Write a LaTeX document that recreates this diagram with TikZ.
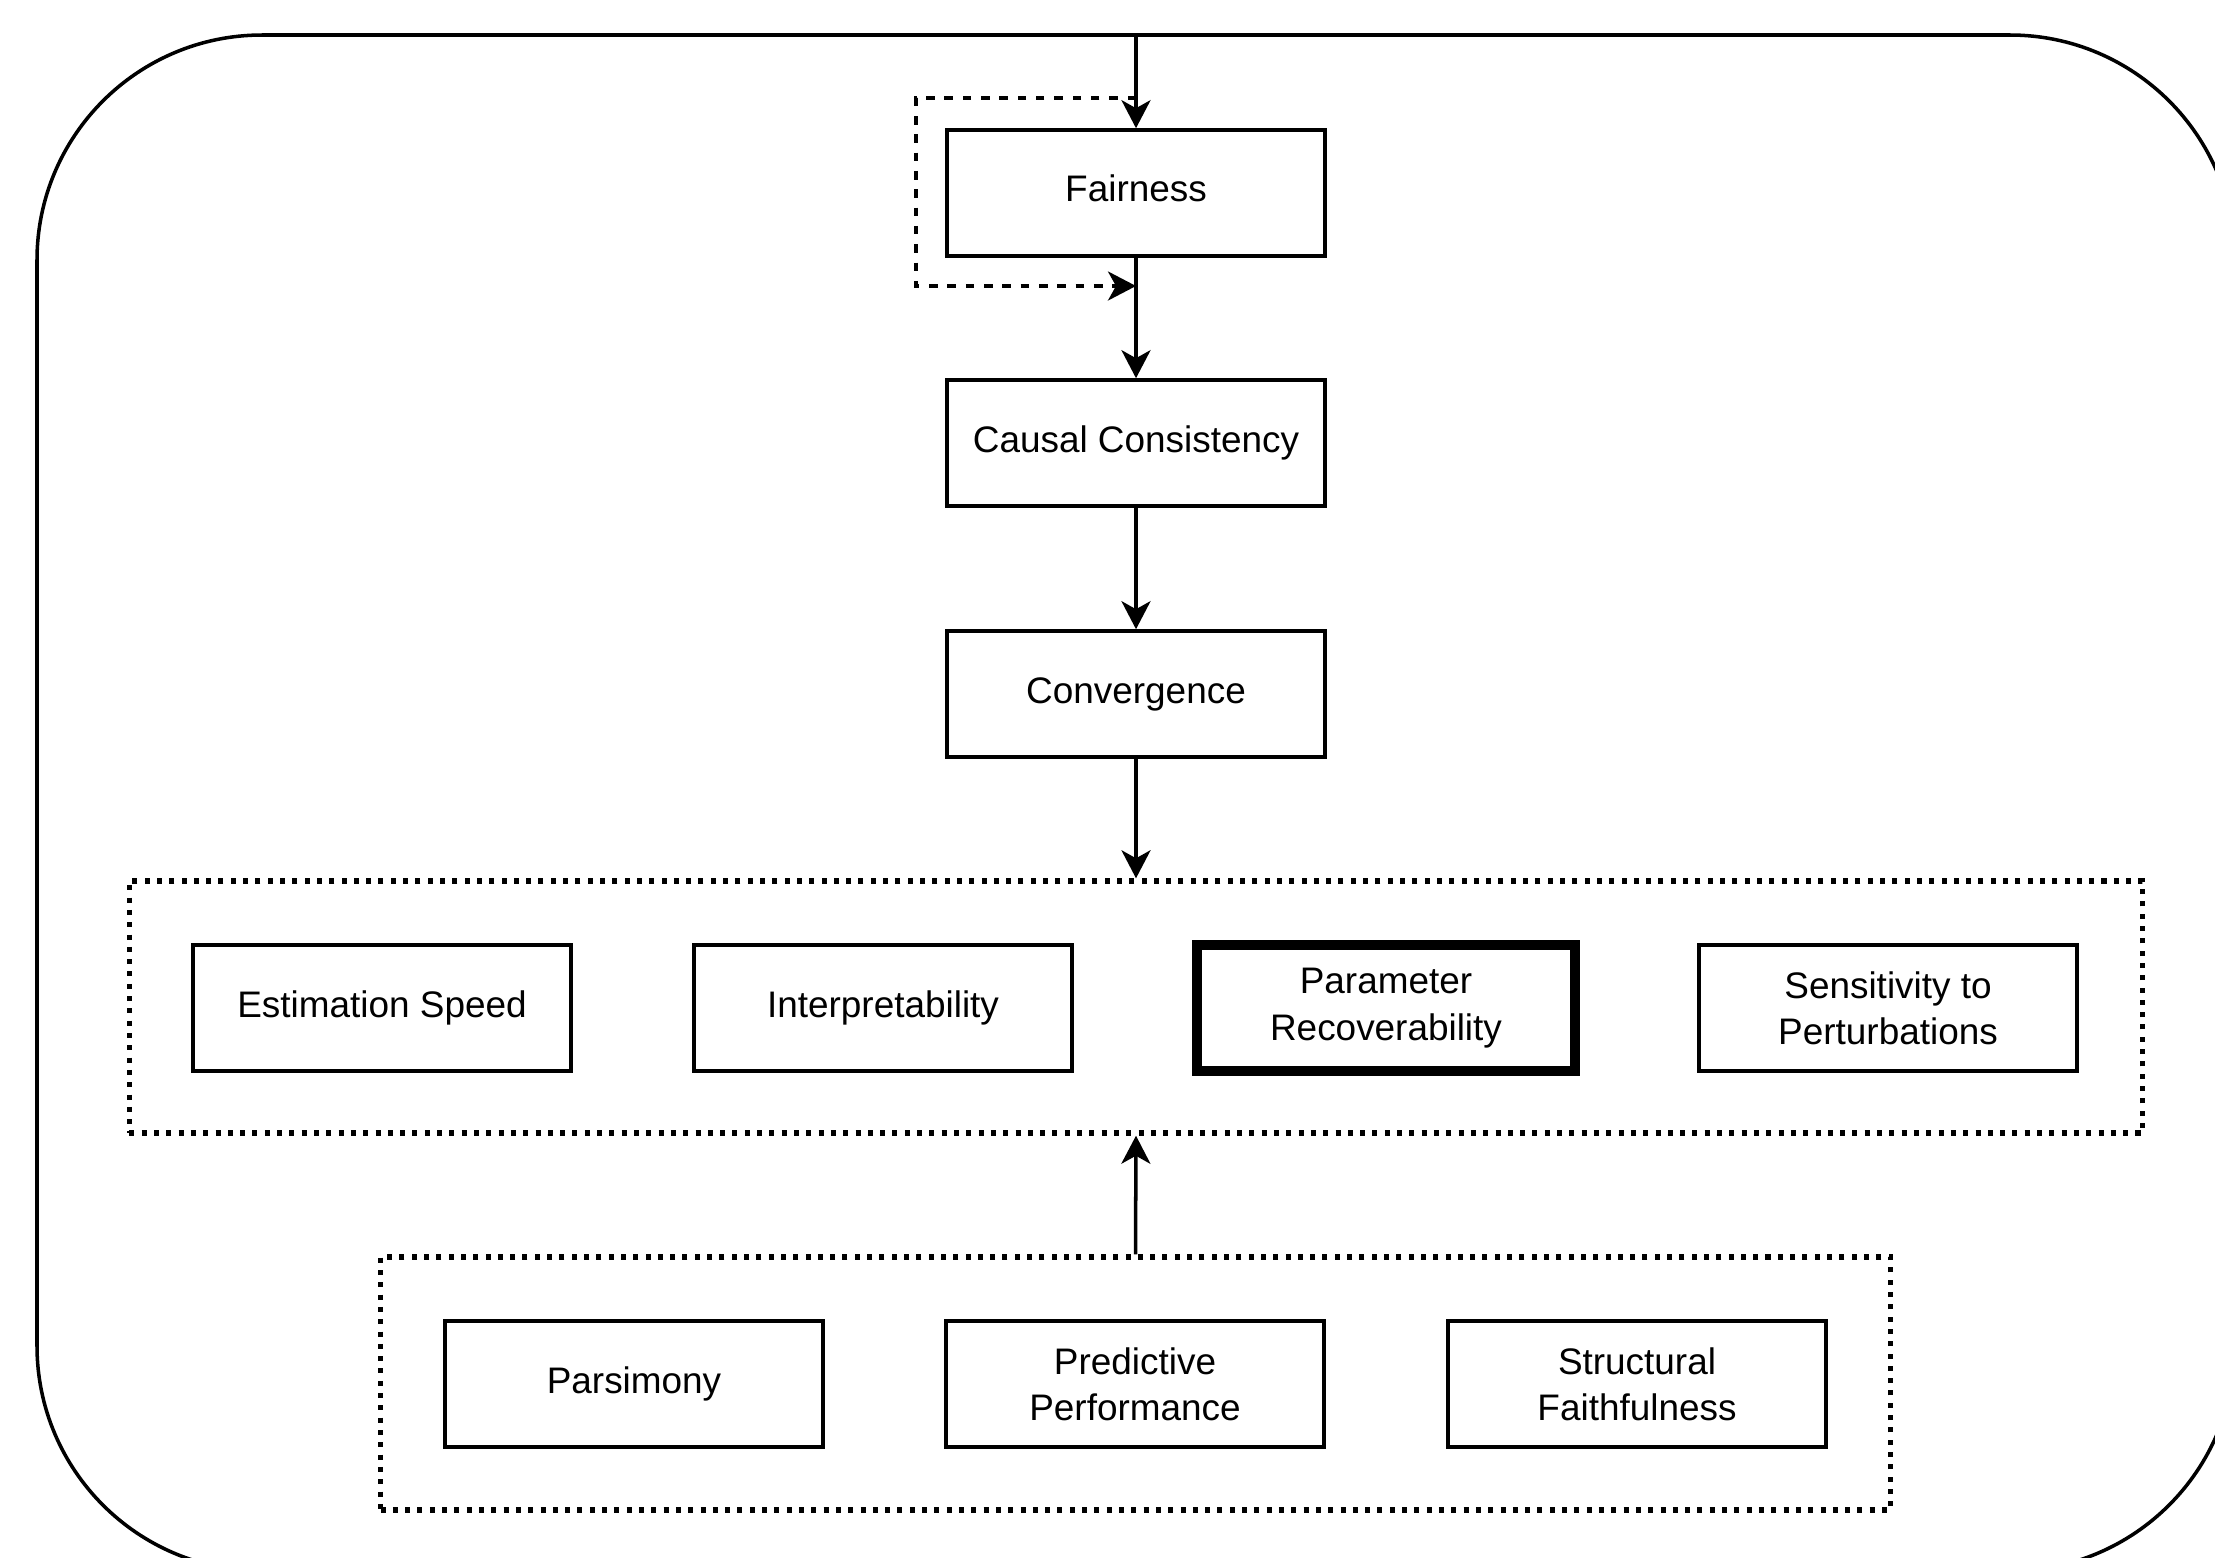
\documentclass[tikz,border=0pt]{standalone}
\usepackage{fontspec}
\setmainfont{Liberation Sans}
\usetikzlibrary{arrows.meta}

\begin{document}
\begin{tikzpicture}[x=0.01cm, y=-0.01cm,
  every node/.style={font=\fontsize{10.5}{13.2}\selectfont},
  box/.style={draw, line width=1pt, minimum width=3.78cm, minimum height=1.26cm,
              inner sep=0pt, align=center},
  keybox/.style={box, line width=2.85pt},
  group/.style={draw, line width=1.5pt, dash pattern=on 0.05cm off 0.073cm,
                inner sep=0pt},
  flow/.style={line width=1pt, -{Stealth[length=0.28cm, width=0.29cm, inset=0.08cm]}},
  loopback/.style={flow, dash pattern=on 0.085cm off 0.098cm}
]
\useasboundingbox (0,0) rectangle (2215,1557);
\clip (0,0) rectangle (2215,1557);

% enclosing frame
\draw[line width=1pt, rounded corners=2.25cm] (37,35) rectangle (2235,1571);

% main chain
\node[box, text height=0.72em, text depth=0.22em] (fair) at (1136,193) {Fairness};
\node[box] (causal) at (1136,443) {Causal Consistency};
\node[box] (conv)   at (1136,694) {Convergence};

% first group
\node[group, minimum width=20.12cm, minimum height=2.52cm] (g1) at (1136,1007) {};
\node[box]    (est)    at (382,1008)  {Estimation Speed};
\node[box]    (interp) at (883,1008)  {Interpretability};
\node[keybox] (param)  at (1386,1008) {Parameter\\Recoverability};
\node[box]    (sens)   at (1888,1008) {Sensitivity to\\Perturbations};

% second group
\node[group, minimum width=15.09cm, minimum height=2.53cm] (g2) at (1135.5,1383.5) {};
\node[box] (pars)   at (634,1384)  {Parsimony};
\node[box] (pred)   at (1135,1384) {Predictive\\Performance};
\node[box] (struct) at (1637,1384) {Structural\\Faithfulness};

% connectors
\coordinate (entry) at (1136,35);
\coordinate (loopA) at (1136,98);
\coordinate (loopB) at (1136,286);

\draw[flow] (entry) -- (fair.north);
\draw[flow] (fair.south) -- (causal.north);
\draw[flow] (causal.south) -- (conv.north);
\draw[flow] (conv.south) -- (g1.north);
\draw[flow] (g2.north) -- (g1.south);
\draw[loopback] (loopA) -- ++(-220,0) |- (loopB);
\end{tikzpicture}
\end{document}
